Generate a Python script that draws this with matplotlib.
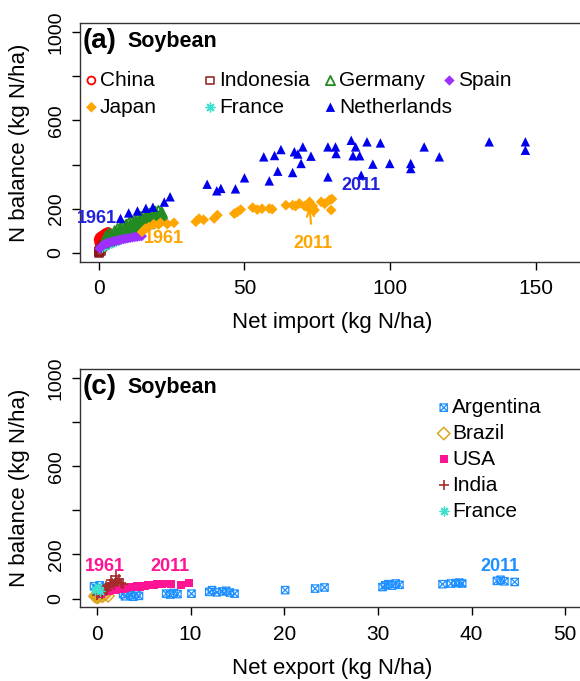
import matplotlib.pyplot as plt
import numpy as np
from matplotlib.path import Path

plt.rcParams['font.family'] = ['Liberation Sans', 'DejaVu Sans']

# ---- panel (a): net importers ----
china_x = [0.0, 0.3, 0.5, 0.8, 1.0, 1.3, 1.6, 2.0, 2.4, 2.8, 3.2, 0.2, 0.6, 1.1, 1.8]
china_y = [60, 70, 55, 75, 65, 80, 72, 85, 90, 78, 95, 45, 50, 58, 62]
indonesia_x = [0.0, 0.1, 0.2, 0.3, 0.5, 0.7, 0.9, 1.2, 1.5, 1.8]
indonesia_y = [0, 5, 10, 3, 15, 8, 20, 25, 30, 35]
germany_x = [2.0, 2.5, 3.0, 3.5, 4.0, 4.5, 5.0, 5.5, 6.0, 6.5, 7.0, 7.5, 8.0, 8.5,
             9.0, 9.5, 10.0, 10.5, 11.0, 11.5, 12.0, 12.5, 13.0, 13.5, 14.0, 14.5,
             15.0, 15.5, 16.0, 16.5, 17.0, 17.5, 18.0, 18.5, 19.0, 19.5, 20.0, 20.5,
             21.0, 21.5, 22.0,
             3.2, 4.8, 6.3, 7.8, 9.3, 10.8, 12.3, 13.8, 15.3, 16.8, 18.3, 19.8, 21.2,
             5.6, 8.6, 11.6, 14.6, 17.6, 20.6,
             4.2, 7.2, 10.2, 13.2, 16.2, 19.2, 21.8]
germany_y = [45, 75, 60, 90, 55, 85, 70, 100, 75, 110, 80, 115, 95, 125, 90, 130,
             105, 140, 110, 145, 115, 150, 120, 160, 125, 165, 135, 170, 140, 175,
             145, 180, 150, 185, 155, 188, 160, 192, 165, 185, 170,
             70, 78, 92, 98, 112, 122, 132, 142, 152, 160, 168, 175, 178,
             62, 82, 98, 118, 132, 148,
             68, 90, 115, 138, 158, 172, 182]
spain_x = [0.3, 0.8, 1.3, 1.8, 2.3, 2.8, 3.3, 3.8, 4.5, 5.2, 6.0, 6.8, 7.6, 8.4,
           9.2, 10.0, 10.8, 11.6, 12.4, 13.2, 14.0, 14.8]
spain_y = [20, 28, 33, 37, 40, 43, 46, 48, 50, 53, 55, 57, 60, 62, 64, 66, 68, 70,
           72, 73, 75, 76]
japan_x = [14.9, 16.0, 17.2, 18.9, 20.5, 21.2, 23.5, 25.8, 33.3, 34.4, 36.0, 39.6,
           40.7, 46.5, 47.5, 48.7, 52.8, 54.4, 56.0, 58.5, 59.5, 64.2, 66.5, 67.5,
           68.8, 70.6, 71.5, 72.3, 73.4, 74.0, 76.3, 77.5, 79.1, 79.7, 80.0]
japan_y = [95, 110, 117, 130, 128, 136, 130, 136, 141, 155, 150, 156, 171, 178, 185,
           196, 205, 196, 200, 201, 198, 216, 216, 212, 224, 212, 208, 231, 212, 194,
           231, 222, 239, 194, 244]
franceA_x = [1.0, 1.8, 2.6, 3.4, 4.2, 5.0, 5.8, 6.6, 7.4, 8.2, 9.0, 9.8, 10.6, 11.4,
             12.2, 13.0, 4.0, 6.0, 8.0]
franceA_y = [25, 32, 38, 42, 47, 50, 55, 58, 62, 66, 70, 74, 78, 82, 86, 90, 60, 68, 78]
neth_x = [7.5, 10.3, 13.3, 16.2, 18.6, 22.5, 24.5, 37.2, 40.5, 41.9, 46.9, 50.0, 56.6,
          58.5, 60.3, 61.4, 62.5, 66.5, 67.1, 68.3, 69.4, 70.0, 72.8, 78.6, 78.6, 81.2,
          81.4, 86.6, 87.2, 88.1, 89.5, 90.0, 92.0, 94.0, 96.6, 99.8, 107.0, 107.0,
          111.6, 116.8, 133.9, 146.3, 146.3]
neth_y = [156, 181, 190, 202, 207, 230, 254, 311, 281, 292, 290, 340, 435, 326, 441,
          370, 468, 364, 458, 448, 405, 480, 438, 344, 480, 480, 450, 510, 440, 480,
          440, 352, 503, 402, 498, 405, 405, 382, 480, 435, 503, 503, 465]

# ---- panel (c): net exporters ----
arg_x = [-0.3, 0.0, 0.3, 0.6, 0.9, 2.8, 3.0, 3.3, 3.6, 3.9, 4.2, 4.5, 7.4, 7.8, 8.2,
         8.6, 10.1, 12.0, 12.3, 12.8, 13.4, 13.8, 14.2, 14.7, 20.1, 23.3, 24.3, 30.5,
         30.8, 31.1, 31.5, 31.9, 32.3, 36.9, 37.8, 38.3, 38.7, 39.0, 42.7, 43.1, 43.5,
         44.6]
arg_y = [55, 45, 60, 40, 50, 20, 10, 25, 15, 8, 20, 12, 22, 18, 25, 20, 22, 30, 38, 28,
         32, 35, 27, 22, 38, 45, 50, 52, 60, 65, 58, 68, 62, 65, 68, 70, 72, 68, 80, 85,
         78, 75]
brazil_x = [-0.2, 0.0, 0.2, 0.4, 0.6, 0.8, 1.0, 1.2, 0.1, -0.1]
brazil_y = [10, 5, 8, 15, 10, 18, 22, 12, 20, 15]
usa_x = [0.4, 0.7, 1.0, 1.3, 1.6, 1.9, 2.2, 2.5, 2.8, 3.1, 3.4, 3.7, 4.0, 4.3, 4.6,
         4.9, 5.2, 5.5, 5.8, 6.1, 6.4, 6.7, 7.0, 7.4, 7.9, 9.0, 9.8]
usa_y = [20, 28, 32, 35, 38, 40, 42, 45, 44, 48, 50, 52, 53, 55, 54, 58, 57, 60, 62,
         63, 65, 64, 66, 68, 67, 63, 72]
india_x = [0.0, 0.2, 0.4, 0.6, 0.8, 1.0, 1.2, 1.4, 1.6, 1.8, 2.0, 2.2, 2.4, 2.6, 1.5,
           2.0, 2.8, 1.1, 0.5]
india_y = [15, 25, 35, 30, 45, 55, 50, 65, 70, 60, 80, 75, 90, 70, 85, 100, 65, 40, 20]
franceC_x = [-0.2, 0.1, 0.3]
franceC_y = [40, 50, 35]

box_x = Path([(-1, -1), (1, -1), (1, 1), (-1, 1), (-1, -1), (-1, -1), (1, 1), (-1, 1), (1, -1)],
             [Path.MOVETO, Path.LINETO, Path.LINETO, Path.LINETO, Path.CLOSEPOLY,
              Path.MOVETO, Path.LINETO, Path.MOVETO, Path.LINETO])
aster = (8, 2, 0)

fig = plt.figure(figsize=(5.8, 6.81), dpi=100)
ax1 = fig.add_axes([0.1379, 0.6157, 0.869, 0.3501])
ax2 = fig.add_axes([0.1379, 0.1082, 0.869, 0.3495])


def style(ax, xlim, xticks, xlabel, xlab_y):
    ax.set_xlim(*xlim)
    ax.set_ylim(-40, 1040)
    ax.set_xticks(xticks)
    ax.set_yticks([0, 200, 400, 600, 800, 1000])
    ax.set_yticklabels(['0', '200', '', '600', '', '1000'], rotation=90, va='center')
    ax.tick_params(axis='x', length=6, width=1, labelsize=15, pad=6.5)
    ax.tick_params(axis='y', length=6, width=1, labelsize=14, pad=5)
    for s in ax.spines.values():
        s.set_color('#333333')
        s.set_linewidth(1)
    ax.spines['right'].set_visible(False)
    ax.set_xlabel(xlabel, fontsize=16)
    ax.set_ylabel('N balance (kg N/ha)', fontsize=16)
    ax.xaxis.set_label_coords(0.5, xlab_y)
    ax.yaxis.set_label_coords(-0.1, 0.5)


style(ax1, (-6.4, 166.4), [0, 50, 100, 150], 'Net import (kg N/ha)', -0.213)
style(ax2, (-1.8, 52), [0, 10, 20, 30, 40, 50], 'Net export (kg N/ha)', -0.215)

# panel (a) points
h_china = ax1.scatter(china_x, china_y, s=32, marker='o', facecolors='none',
                      edgecolors='red', linewidths=1.3, label='China')
h_indo = ax1.scatter(indonesia_x, indonesia_y, s=32, marker='s', facecolors='none',
                     edgecolors='#8B1A1A', linewidths=1.1, label='Indonesia')
h_fra = ax1.scatter(franceA_x, franceA_y, s=40, marker=aster, c='#40E0D0',
                    linewidths=1, label='France')
h_ger = ax1.scatter(germany_x, germany_y, s=44, marker='^', facecolors='none',
                    edgecolors='#228B22', linewidths=1.3, label='Germany')
h_spa = ax1.scatter(spain_x, spain_y, s=28, marker='D', c='#9B30FF',
                    edgecolors='none', label='Spain')
h_jap = ax1.scatter(japan_x, japan_y, s=30, marker='D', c='#FFA500',
                    edgecolors='none', label='Japan')
h_net = ax1.scatter(neth_x, neth_y, s=46, marker='^', c='#0000EE',
                    edgecolors='none', label='Netherlands')

ann = dict(fontsize=13, fontweight='bold', ha='center', va='center')
ax1.text(-0.6, 156, '1961', color='#2222DD', **ann)
ax1.text(90, 307, '2011', color='#2222DD', **ann)
ax1.text(22.4, 65, '1961', color='#FFA500', **ann)
ax1.annotate('2011', xy=(72.3, 208), xytext=(73.4, 43), color='#FFA500',
             arrowprops=dict(arrowstyle='->', color='#FFA500', lw=1.5,
                             shrinkA=6, shrinkB=0), **ann)

ax1.text(0.006, 0.925, '(a)', transform=ax1.transAxes, fontsize=20,
         fontweight='bold', va='center', ha='left')
ax1.text(0.095, 0.925, 'Soybean', transform=ax1.transAxes, fontsize=15.5,
         fontweight='bold', va='center', ha='left')

cols = [[h_china, h_jap], [h_indo, h_fra], [h_ger, h_net], [h_spa]]
xs = [0.0103, 0.2464, 0.4845, 0.7206]
for hs, x0 in zip(cols, xs):
    leg = ax1.legend(handles=hs, loc='upper left', bbox_to_anchor=(x0, 0.80),
                     frameon=False, fontsize=15, borderpad=0, borderaxespad=0,
                     handlelength=0.6, handletextpad=0.1, labelspacing=0.37,
                     scatterpoints=1)
    if x0 != xs[-1]:
        ax1.add_artist(leg)

# panel (c) points
h_arg = ax2.scatter(arg_x, arg_y, s=28, marker=box_x, facecolors='none',
                    edgecolors='#1E90FF', linewidths=0.9, label='Argentina')
h_bra = ax2.scatter(brazil_x, brazil_y, s=40, marker='D', facecolors='none',
                    edgecolors='#DAA520', linewidths=1.1, label='Brazil')
h_usa = ax2.scatter(usa_x, usa_y, s=32, marker='s', c='#FF1493',
                    edgecolors='none', label='USA')
h_ind = ax2.scatter(india_x, india_y, s=60, marker='+', c='#A52A2A',
                    linewidths=1.2, label='India')
h_frc = ax2.scatter(franceC_x, franceC_y, s=40, marker=aster, c='#40E0D0',
                    linewidths=1, label='France')

ax2.text(0.9, 143, '1961', color='#FF1493', **ann)
ax2.text(7.8, 143, '2011', color='#FF1493', **ann)
ax2.text(43, 143, '2011', color='#1E90FF', **ann)

ax2.text(0.006, 0.925, '(c)', transform=ax2.transAxes, fontsize=20,
         fontweight='bold', va='center', ha='left')
ax2.text(0.095, 0.925, 'Soybean', transform=ax2.transAxes, fontsize=15.5,
         fontweight='bold', va='center', ha='left')

ax2.legend(handles=[h_arg, h_bra, h_usa, h_ind, h_frc], loc='upper left',
           bbox_to_anchor=(0.7093, 0.879), frameon=False, fontsize=15,
           borderpad=0, borderaxespad=0, handlelength=0.6, handletextpad=0.1,
           labelspacing=0.33, scatterpoints=1)

fig.savefig('out.png', dpi=100)
